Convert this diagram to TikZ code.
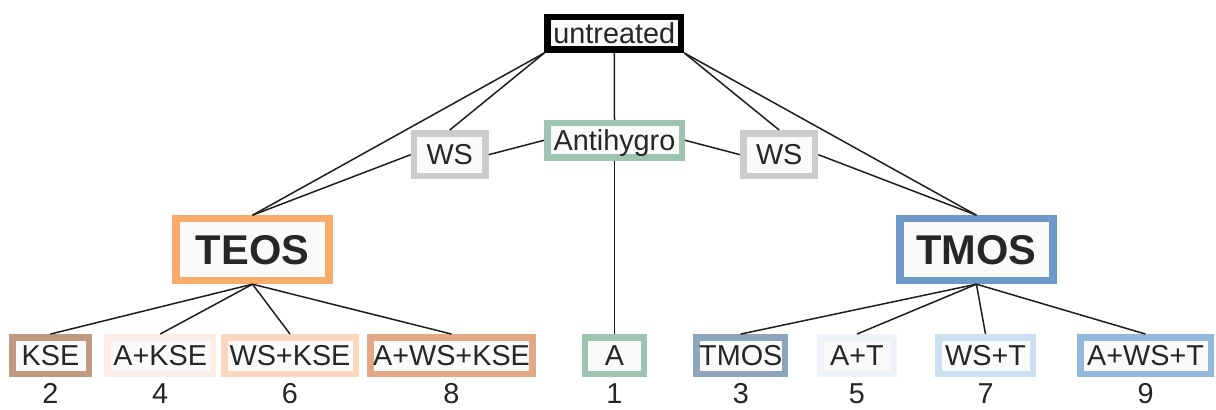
\documentclass[tikz,border=0pt]{standalone}
\usepackage{fontspec}
\setmainfont{Liberation Sans}

% frame colours
\definecolor{ink}{HTML}{262626}
\definecolor{wire}{HTML}{1E1E1E}
\definecolor{boxfill}{HTML}{FAFAFA}
\definecolor{cAnti}{HTML}{9CC4AF}
\definecolor{cWS}{HTML}{CCCCCC}
\definecolor{cTEOS}{HTML}{F9AB6A}
\definecolor{cTMOS}{HTML}{6E98C9}
\definecolor{cKSE}{HTML}{C09A80}
\definecolor{cAKSE}{HTML}{FCEEE6}
\definecolor{cWSKSE}{HTML}{FBD6BE}
\definecolor{cAWSKSE}{HTML}{E3A987}
\definecolor{cTm}{HTML}{8DA4BD}
\definecolor{cAT}{HTML}{EEF3FA}
\definecolor{cWST}{HTML}{CDE0F2}
\definecolor{cAWST}{HTML}{93B8DD}

\begin{document}
\begin{tikzpicture}[x=0.5pt,y=-0.5pt,
  box/.style={draw, fill=boxfill, inner sep=0pt, text=ink,
    font=\fontsize{14.4}{14.4}\selectfont, text height=10.3pt, text depth=0pt},
  mid/.style={box, line width=3.25pt},
  big/.style={box, line width=3.6pt, minimum width=76.5pt, minimum height=30.9pt,
    font=\fontsize{20.8}{20.8}\bfseries\selectfont, text height=14.9pt},
  low/.style={box, line width=3.25pt, minimum height=18.4pt},
  num/.style={inner sep=0pt, text=ink, font=\fontsize{14.4}{14.4}\selectfont,
    text height=10.3pt, text depth=0pt},
  link/.style={draw=wire, line width=0.75pt}
]
\fill[white] (0,0) rectangle (1216,410);
\useasboundingbox (0,0) rectangle (1216,410);

% top of the tree
\node[mid, draw=black, minimum width=66.75pt, minimum height=16.25pt] (untr) at (614.3,33.5) {untreated};
\node[mid, draw=cAnti, minimum width=67.25pt, minimum height=17.1pt] (anti) at (614.5,140.3) {Antihygro};
\node[mid, draw=cWS, minimum width=35.75pt, minimum height=21.4pt] (wsl) at (449.7,154.7) {WS};
\node[mid, draw=cWS, minimum width=35.9pt, minimum height=21.4pt] (wsr) at (779.2,154.7) {WS};

% consolidants
\node[big, draw=cTEOS] (teos) at (252.5,249.7) {TEOS};
\node[big, draw=cTMOS] (tmos) at (976.4,249.7) {TMOS};

% treatment combinations
\node[low, draw=cKSE, minimum width=38.25pt] (kse) at (50.5,355.7) {KSE};
\node[low, draw=cAKSE, minimum width=52.6pt] (akse) at (160.2,355.7) {A+KSE};
\node[low, draw=cWSKSE, minimum width=65.75pt] (wskse) at (290,355.7) {WS+KSE};
\node[low, draw=cAWSKSE, minimum width=80.95pt] (awskse) at (451.5,355.7) {A+WS+KSE};
\node[low, draw=cAnti, minimum width=29.55pt] (a) at (614.5,355.7) {A};
\node[low, draw=cTm, minimum width=44.25pt] (tm) at (740.8,355.7) {TMOS};
\node[low, draw=cAT, minimum width=36.45pt] (at) at (857,355.7) {A+T};
\node[low, draw=cWST, minimum width=47.25pt] (wst) at (985.5,355.7) {WS+T};
\node[low, draw=cAWST, minimum width=65.25pt] (awst) at (1145.5,355.7) {A+WS+T};

% sample numbers
\node[num] (n2) at (50.5,393.5) {2};
\node[num] (n4) at (160.2,393.5) {4};
\node[num] (n6) at (290,393.5) {6};
\node[num] (n8) at (451.5,393.5) {8};
\node[num] (n1) at (614.5,393.5) {1};
\node[num] (n3) at (740.8,393.5) {3};
\node[num] (n5) at (857,393.5) {5};
\node[num] (n7) at (985.5,393.5) {7};
\node[num] (n9) at (1145.5,393.5) {9};

% connectors
\draw[link] (untr.south west) -- (wsl.north);
\draw[link] (untr.south west) -- (teos.north);
\draw[link] (wsl.west) -- (teos.north);
\draw[link] (anti.west) -- (wsl.east);
\draw[link] (untr.south) -- (anti.north);
\draw[link] (anti.south) -- (a.north);
\draw[link] (anti.east) -- (wsr.west);
\draw[link] (untr.south east) -- (wsr.north);
\draw[link] (untr.south east) -- (tmos.north);
\draw[link] (wsr.east) -- (tmos.north);

\foreach \leaf in {kse,akse,wskse,awskse}
  \draw[link] (teos.south) -- (\leaf.north);
\foreach \leaf in {tm,at,wst,awst}
  \draw[link] (tmos.south) -- (\leaf.north);
\end{tikzpicture}
\end{document}
